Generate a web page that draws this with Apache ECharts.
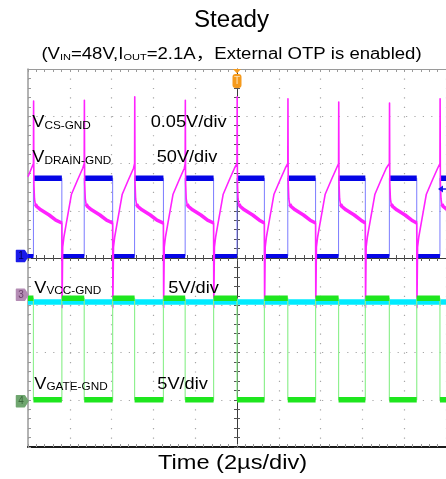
<!DOCTYPE html>
<html>
<head>
<meta charset="utf-8">
<script src="https://cdn.jsdelivr.net/npm/echarts@6/dist/echarts.min.js"></script>
<style>
  html, body { margin: 0; padding: 0; background: #fff; }
  #c { width: 446px; height: 479px; }
</style>
</head>
<body>
<div id="c"></div>
<script>
// Horizontal: µs from the trigger point, 2 µs per division, ten divisions.
const timeRange = [-10, 10];
const timePerDiv = 2;
// Vertical: divisions from screen centre, eight divisions.
const divRange = [-4, 4];

// Switching instants (µs): gate turns off / drain rises
const offEdges = [-9.74, -7.31, -4.90, -2.48, 0, 2.43, 4.86, 7.29, 9.71];
// gate turns on / drain falls
const onEdges = [-8.38, -5.95, -3.52, -1.12, 1.31, 3.76, 6.14, 8.60];

// Trace levels in divisions: [switch on, switch off]
const drainLevels = [0.04, 1.69];
const gateLevels = [-0.85, -3.0];
const vccLevel = -0.93;

// Current-sense trace
const csStartLevel = 1.72;
const csRampTop = 2.0;
const csSpikePeaks = [3.32, 3.34, 3.41, 3.34, 3.41, 3.37, 3.30, 3.28, 3.37];
const csOffOffsets = [0.02, 0.05, 0.09, 0.16, 0.35, 0.75, 1.07];
const csOffLevels = [1.60, 1.25, 1.14, 1.09, 1.02, 0.91, 0.80];
const csLevelAtOn = 0.74;
const csOnOffsets = [0.01, 0.04, 0.10, 0.20, 0.46, 0.75, 1.00];
const csOnLevels = [-1.05, 0.23, 0.45, 0.70, 1.35, 1.65, 1.90];

// Channel ground markers and trigger level (divisions)
const channelIds = ['1', '3', '4'];
const channelGround = [0.04, -0.78, -3.03];
const triggerLevel = 1.46;

// Annotation text
const titleText = 'Steady';
const conditionParts = ['(V', 'IN', '=48V,I', 'OUT', '=2.1A，External OTP is enabled)'];
const axisTitle = 'Time (2µs/div)';
const channelNames = [['V', 'CS-GND'], ['V', 'DRAIN-GND'], ['V', 'VCC-GND'], ['V', 'GATE-GND']];
const channelScales = ['0.05V/div', '50V/div', '5V/div', '5V/div'];

const FONT = '"Liberation Sans", Arial, "Noto Sans CJK SC", sans-serif';
const GAP = '-';

// Square wave between two levels: a thin full trace plus heavy flat parts
function buildSquare(levels) {
  const events = offEdges.map(t => [t, 1]).concat(onEdges.map(t => [t, 0]))
    .sort((a, b) => a[0] - b[0]);
  let state = 0;
  const thin = [[timeRange[0], levels[0]]];
  const flat = [[[timeRange[0], levels[0]]], []];
  events.forEach(([t, s]) => {
    thin.push([t, levels[state]], [t, levels[s]]);
    flat[state].push([t, levels[state]], [t, GAP]);
    flat[s].push([t, levels[s]]);
    state = s;
  });
  thin.push([timeRange[1], levels[state]]);
  flat[state].push([timeRange[1], levels[state]]);
  return { thin, flat };
}

function buildCs() {
  const thin = [[timeRange[0], csStartLevel]];
  const heavy = [];
  offEdges.forEach((t0, i) => {
    thin.push([t0, csRampTop], [t0 + 0.008, csSpikePeaks[i]]);
    csOffOffsets.forEach((dt, k) => {
      thin.push([t0 + dt, csOffLevels[k]]);
      if (dt >= 0.09) heavy.push([t0 + dt, csOffLevels[k]]);
    });
    const t1 = onEdges[i];
    if (t1 !== undefined) {
      thin.push([t1, csLevelAtOn]);
      heavy.push([t1, csLevelAtOn], [t1, GAP]);
      csOnOffsets.forEach((dt, k) => thin.push([t1 + dt, csOnLevels[k]]));
    }
  });
  return { thin, heavy };
}

const drain = buildSquare(drainLevels);
const gate = buildSquare(gateLevels);
const cs = buildCs();
const vcc = [[timeRange[0], vccLevel], [timeRange[1], vccLevel]];

function trace(data, color, width, z) {
  return {
    type: 'line', data, xAxisIndex: 0, yAxisIndex: 0,
    symbol: 'none', showSymbol: false, silent: true, animation: false,
    connectNulls: false, clip: true, z,
    lineStyle: { color, width, join: 'round' }
  };
}

const tickGray = '#9a9a9a';
function xAxisDef(extra) {
  return Object.assign({
    type: 'value', min: timeRange[0], max: timeRange[1], interval: timePerDiv,
    axisLabel: { show: false }, splitLine: { show: false },
    axisTick: { show: true, inside: true, length: 3, lineStyle: { color: tickGray } },
    minorTick: { show: true, splitNumber: 5, length: 3, lineStyle: { color: tickGray } }
  }, extra);
}
function yAxisDef(extra) {
  return Object.assign({
    type: 'value', min: divRange[0], max: divRange[1], interval: 1,
    axisLabel: { show: false }, splitLine: { show: false },
    axisTick: { show: true, inside: true, length: 3, lineStyle: { color: tickGray } },
    minorTick: { show: true, splitNumber: 5, length: 3, lineStyle: { color: tickGray } }
  }, extra);
}

const centreLine = { color: '#3a3a3a', width: 1 };
const centreTick = { color: '#555' };
const dotColor = '#a6a6a6';

const option = {
  backgroundColor: '#fff',
  animation: false,
  grid: { left: 28, top: 69, width: 420, height: 378, containLabel: false },
  xAxis: [
    xAxisDef({
      position: 'bottom',
      axisLine: { show: true, onZero: true, onZeroAxisIndex: 0, lineStyle: centreLine },
      axisTick: { show: true, inside: true, length: 3, lineStyle: centreTick },
      minorTick: { show: true, splitNumber: 5, length: 3, lineStyle: centreTick },
      splitLine: { show: true, lineStyle: { color: dotColor, width: 1.2, type: [1.2, 8.25] } }
    }),
    xAxisDef({
      position: 'top',
      axisLine: { show: true, onZero: false, lineStyle: { color: '#9a9a9a', width: 1 } }
    }),
    xAxisDef({
      position: 'bottom',
      axisLine: { show: true, onZero: false, lineStyle: { color: '#1a1a1a', width: 2 } }
    }),
    xAxisDef({
      position: 'bottom',
      axisLine: { show: false, onZero: true, onZeroAxisIndex: 0 },
      axisTick: { show: true, inside: false, length: 3, lineStyle: centreTick },
      minorTick: { show: true, splitNumber: 5, length: 3, lineStyle: centreTick }
    })
  ],
  yAxis: [
    yAxisDef({
      position: 'left',
      axisLine: { show: true, onZero: true, onZeroAxisIndex: 0, lineStyle: centreLine },
      axisTick: { show: true, inside: true, length: 3, lineStyle: centreTick },
      minorTick: { show: true, splitNumber: 5, length: 3, lineStyle: centreTick },
      splitLine: { show: true, lineStyle: { color: dotColor, width: 1.2, type: [1.2, 7.2] } }
    }),
    yAxisDef({
      position: 'left',
      axisLine: { show: true, onZero: false, lineStyle: { color: '#9a9a9a', width: 1.5 } }
    }),
    yAxisDef({
      position: 'left',
      axisLine: { show: false, onZero: true, onZeroAxisIndex: 0 },
      axisTick: { show: true, inside: false, length: 3, lineStyle: centreTick },
      minorTick: { show: true, splitNumber: 5, length: 3, lineStyle: centreTick }
    })
  ],
  series: [
    trace(drain.thin, '#7b7bff', 1, 3),
    trace(drain.flat[0], '#0505e6', 4, 4),
    trace(drain.flat[1], '#0505e6', 5.5, 4),
    trace(cs.thin, '#ff22ff', 1.6, 5),
    trace(cs.heavy, '#ff22ff', 3.5, 5),
    trace(vcc, '#00ebff', 5.5, 6),
    trace(gate.thin, '#90f090', 1.2, 7),
    trace(gate.flat[0], '#1ee61e', 5.5, 8),
    trace(gate.flat[1], '#1ee61e', 5.5, 8)
  ]
};

const chart = echarts.init(document.getElementById('c'));
chart.setOption(option);

// Annotation layer: titles, channel labels, ground and trigger markers
const toPx = (t, v) => chart.convertToPixel({ xAxisIndex: 0, yAxisIndex: 0 }, [t, v]);
const gridLeft = toPx(timeRange[0], 0)[0];
const gridTop = toPx(0, divRange[1])[1];
const trigX = toPx(0, 0)[0];
const rightX = toPx(timeRange[1], 0)[0];

function plainText(x, y, text, size, scaleX, align) {
  return {
    type: 'text', x, y, scaleX, z: 100,
    style: {
      text, fontSize: size, lineHeight: size, fontFamily: FONT, fill: '#000',
      align, verticalAlign: 'bottom'
    }
  };
}

function channelLabel(x, y, parts) {
  return {
    type: 'text', x, y, scaleX: 1.07, z: 100,
    style: {
      text: parts[0] + '{s|' + parts[1] + '}',
      fontSize: 17, lineHeight: 17, fontFamily: FONT, fill: '#000',
      align: 'left', verticalAlign: 'bottom',
      rich: { s: { fontSize: 11, lineHeight: 11, fontFamily: FONT, fill: '#000', verticalAlign: 'bottom' } }
    }
  };
}

const graphics = [];
graphics.push(plainText(231.5, 32, titleText, 23, 1.05, 'center'));
graphics.push({
  type: 'text', x: 231.5, y: 62.5, scaleX: 1.16, z: 100,
  style: {
    text: conditionParts[0] + '{s|' + conditionParts[1] + '}' + conditionParts[2] +
      '{s|' + conditionParts[3] + '}' + conditionParts[4],
    fontSize: 16, lineHeight: 16, fontFamily: FONT, fill: '#000',
    align: 'center', verticalAlign: 'bottom',
    rich: { s: { fontSize: 9.5, lineHeight: 9.5, fontFamily: FONT, fill: '#000', verticalAlign: 'bottom' } }
  }
});
graphics.push(plainText(232.5, 473.5, axisTitle, 20, 1.18, 'center'));

const labelPos = [[32.3, 131], [32.3, 166], [34.3, 296.6], [34.3, 392.6]];
const scalePos = [[150.7, 131], [156.7, 166], [168.3, 296.6], [157.3, 392.6]];
channelNames.forEach((parts, i) => {
  graphics.push(channelLabel(labelPos[i][0], labelPos[i][1], parts));
  graphics.push({
    type: 'text', x: scalePos[i][0], y: scalePos[i][1], scaleX: 1.07, z: 100,
    style: {
      text: channelScales[i], fontSize: 17, lineHeight: 17, fontFamily: FONT,
      fill: '#000', align: 'left', verticalAlign: 'bottom'
    }
  });
});

const markerFill = ['#1b1bea', '#b48cb4', '#6fa66f'];
const markerInk = ['#00005a', '#6d3f6d', '#3d6a3d'];
channelIds.forEach((id, i) => {
  const y = toPx(0, channelGround[i])[1];
  const x0 = gridLeft;
  graphics.push({
    type: 'polygon', z: 90,
    shape: { points: [[x0 - 11.5, y - 5.5], [x0 - 3.5, y - 5.5], [x0, y], [x0 - 3.5, y + 5.5], [x0 - 11.5, y + 5.5]] },
    style: { fill: markerFill[i], stroke: markerFill[i], lineWidth: 1.5, lineJoin: 'round' }
  });
  graphics.push({
    type: 'text', x: x0 - 7, y: y + 0.5, z: 91,
    style: { text: id, fontSize: 10, fontFamily: FONT, fill: markerInk[i], align: 'center', verticalAlign: 'middle' }
  });
});

// Trigger position marker on the top edge
graphics.push({
  type: 'polygon', z: 90,
  shape: { points: [[trigX - 4, gridTop], [trigX + 4, gridTop], [trigX, gridTop + 4.5]] },
  style: { fill: '#f59a1c' }
});
graphics.push({
  type: 'rect', z: 90,
  shape: { x: trigX - 4.5, y: gridTop + 5, width: 9, height: 14, r: 3 },
  style: { fill: '#f59a1c' }
});
graphics.push({
  type: 'text', x: trigX, y: gridTop + 12.5, z: 91,
  style: { text: 'T', fontSize: 10, fontFamily: FONT, fill: '#fde3b8', align: 'center', verticalAlign: 'middle' }
});

// Trigger level arrow on the right edge
const trigY = toPx(0, triggerLevel)[1];
graphics.push({
  type: 'polygon', z: 90,
  shape: { points: [[rightX - 8, trigY], [rightX - 3, trigY - 3.5], [rightX - 3, trigY + 3.5]] },
  style: { fill: '#1b1bea' }
});
graphics.push({
  type: 'line', z: 90,
  shape: { x1: rightX - 4, y1: trigY, x2: rightX, y2: trigY },
  style: { stroke: '#1b1bea', lineWidth: 1.5 }
});

chart.setOption({ graphic: graphics });
</script>
</body>
</html>
